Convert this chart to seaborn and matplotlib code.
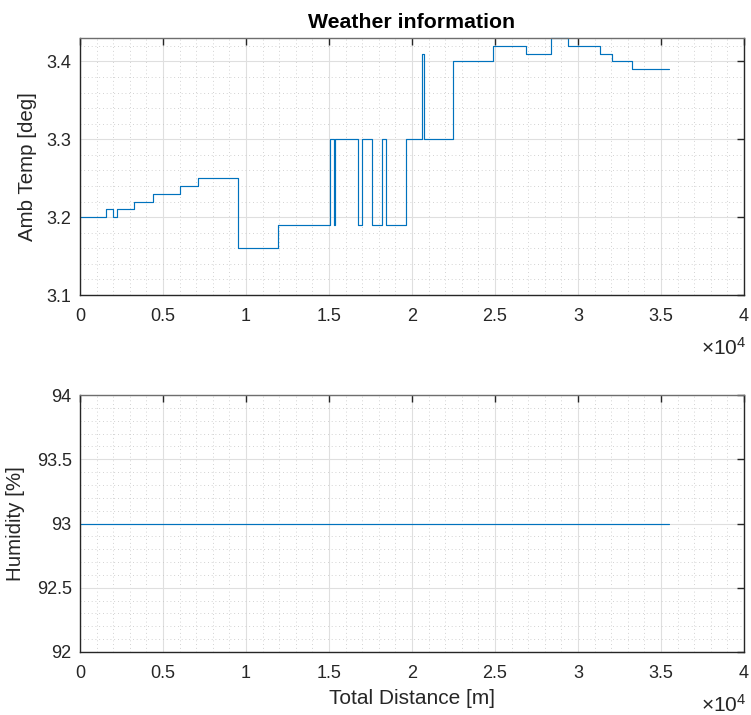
import matplotlib
matplotlib.use("Agg")
import matplotlib.pyplot as plt
import seaborn as sns
import pandas as pd
from matplotlib.ticker import MultipleLocator

# ---- data ----
dist_m = [0, 1550, 2010, 2210, 3260, 4420, 6050, 7100, 9530, 11900,
          15080, 15280, 15340, 16750, 16990, 17600, 18190, 18420, 19620, 20610,
          20700, 22460, 24870, 26870, 28360, 29400, 31330, 32020, 33280, 35460]
amb_temp = [3.20, 3.21, 3.20, 3.21, 3.22, 3.23, 3.24, 3.25, 3.16, 3.19,
            3.30, 3.19, 3.30, 3.19, 3.30, 3.19, 3.30, 3.19, 3.30, 3.41,
            3.30, 3.40, 3.42, 3.41, 3.43, 3.42, 3.41, 3.40, 3.39, 3.39]
hum_dist = [0, 35460]
humidity = [93, 93]

title = "Weather information"
ylabel_top = "Amb Temp [deg]"
ylabel_bot = "Humidity [%]"
xlabel = "Total Distance [m]"
xticks = [0, 5000, 10000, 15000, 20000, 25000, 30000, 35000, 40000]
xtick_labels = ["0", "0.5", "1", "1.5", "2", "2.5", "3", "3.5", "4"]

sns.set_style("white")
plt.rcParams['font.family'] = ['Liberation Sans', 'DejaVu Sans']
plt.rcParams['mathtext.fontset'] = 'custom'
plt.rcParams['mathtext.rm'] = 'Liberation Sans'
plt.rcParams['mathtext.it'] = 'Liberation Sans'

TXT = '#262626'
LINE = '#0072BD'

fig = plt.figure(figsize=(7.51, 7.15), dpi=100)
W, H = 751, 715
ax1 = fig.add_axes([80 / W, 1 - 295 / H, 664 / W, 257 / H])
ax2 = fig.add_axes([80 / W, 1 - 652 / H, 664 / W, 257 / H])

df_t = pd.DataFrame({"d": dist_m, "t": amb_temp})
df_h = pd.DataFrame({"d": hum_dist, "h": humidity})

sns.lineplot(data=df_t, x="d", y="t", ax=ax1, drawstyle="steps-post",
             estimator=None, sort=False, color=LINE, linewidth=0.85, clip_on=False)
sns.lineplot(data=df_h, x="d", y="h", ax=ax2, estimator=None, sort=False,
             color=LINE, linewidth=0.85)


def style(ax, ylim, ymajor, yminor):
    ax.set_xlim(0, 40000)
    ax.set_ylim(*ylim)
    ax.set_xticks(xticks)
    ax.set_xticklabels(xtick_labels)
    ax.xaxis.set_minor_locator(MultipleLocator(1000))
    ax.yaxis.set_major_locator(MultipleLocator(ymajor))
    ax.yaxis.set_minor_locator(MultipleLocator(yminor))
    ax.grid(which='major', color='#dfdfdf', linewidth=0.8, linestyle='-')
    ax.grid(which='minor', color='#c4c4c4', linewidth=0.6, linestyle=(0, (1, 3.5)))
    ax.set_axisbelow(True)
    ax.tick_params(which='major', direction='in', length=5, width=1.0,
                   color=TXT, labelsize=13, labelcolor=TXT,
                   top=True, right=True, pad=6)
    ax.tick_params(axis='x', which='major', pad=9.5)
    ax.tick_params(which='minor', length=0, top=False, right=False)
    for s in ax.spines.values():
        s.set_color(TXT)
        s.set_linewidth(1.0)
        s.set_visible(True)
    ax.spines['top'].set_color('#6e6e6e')
    ax.set_xlabel("")


style(ax1, (3.1, 3.43), 0.1, 0.02)
ax1.set_yticks([3.1, 3.2, 3.3, 3.4])
ax1.set_yticklabels(["3.1", "3.2", "3.3", "3.4"])
style(ax2, (92, 94), 0.5, 0.1)
ax2.set_yticks([92, 92.5, 93, 93.5, 94])
ax2.set_yticklabels(["92", "92.5", "93", "93.5", "94"])

ax1.set_title(title, fontsize=15.3, fontweight='bold', color='black', pad=7)
ax1.set_ylabel(ylabel_top, fontsize=14.8, color=TXT)
ax2.set_ylabel(ylabel_bot, fontsize=14.8, color=TXT)
ax1.yaxis.set_label_coords(-0.065, 0.5)
ax2.yaxis.set_label_coords(-0.083, 0.5)
ax2.set_xlabel(xlabel, fontsize=15, color=TXT, labelpad=5)

fig.text(746 / W, 1 - 348 / H, r'$\times10^{4}$', ha='right', va='center',
         fontsize=15, color=TXT)
fig.text(746 / W, 1 - 705 / H, r'$\times10^{4}$', ha='right', va='center',
         fontsize=15, color=TXT)

fig.savefig("out.png", dpi=100)
